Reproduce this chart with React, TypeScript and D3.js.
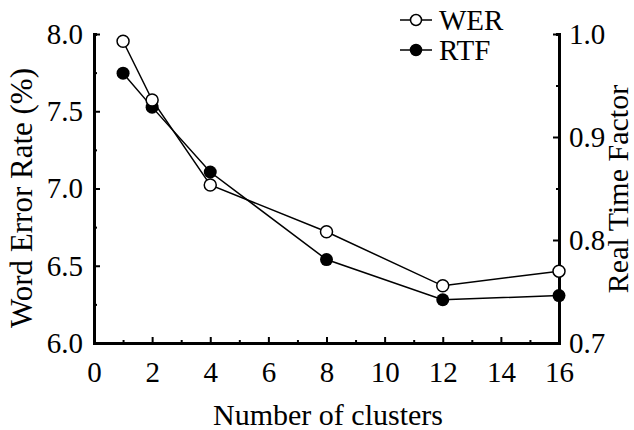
import React, { useEffect, useRef } from "react";
import * as d3 from "d3";

const clusters = [1, 2, 4, 8, 12, 16];
const werValues = [7.953, 7.573, 7.023, 6.72, 6.37, 6.465];
const rtfValues = [0.962, 0.929, 0.866, 0.781, 0.742, 0.746];
const xTicks = [0, 2, 4, 6, 8, 10, 12, 14, 16];
const werTicks = [6.0, 6.5, 7.0, 7.5, 8.0];
const rtfTicks = [0.7, 0.8, 0.9, 1.0];

const width = 634;
const height = 430;
const font = "'Liberation Serif', 'Times New Roman', serif";

export default function App() {
  const ref = useRef<SVGSVGElement | null>(null);

  useEffect(() => {
    if (!ref.current) return;
    const svg = d3.select(ref.current);
    svg.selectAll("*").remove();

    const margin = { top: 34, right: 75, bottom: 87, left: 94 };
    const plotW = width - margin.left - margin.right;
    const plotH = height - margin.top - margin.bottom;

    const g = svg
      .append("g")
      .attr("transform", `translate(${margin.left},${margin.top})`);

    const x = d3.scaleLinear().domain([0, 16]).range([0, plotW]);
    const yL = d3.scaleLinear().domain([6, 8]).range([plotH, 0]);
    const yR = d3.scaleLinear().domain([0.7, 1.0]).range([plotH, 0]);

    const axisStyle = (sel: any) => {
      sel.select(".domain").attr("stroke", "#000").attr("stroke-width", 3);
      sel.selectAll("line").attr("stroke", "#000").attr("stroke-width", 2);
      sel
        .selectAll("text")
        .attr("font-family", font)
        .attr("font-size", 29)
        .attr("fill", "#000");
    };

    // minor ticks
    const minor = (axis: any, values: number[]) =>
      axis.tickValues(values).tickSize(-3).tickFormat(() => "");

    g.append("g")
      .attr("transform", `translate(0,${plotH})`)
      .call(minor(d3.axisBottom(x), d3.range(1, 16, 2)))
      .call(axisStyle);
    g.append("g")
      .call(minor(d3.axisLeft(yL), [6.25, 6.75, 7.25, 7.75]))
      .call(axisStyle);
    g.append("g")
      .attr("transform", `translate(${plotW},0)`)
      .call(minor(d3.axisRight(yR), [0.75, 0.85, 0.95]))
      .call(axisStyle);

    // X axis
    g.append("g")
      .attr("transform", `translate(0,${plotH})`)
      .call(
        d3
          .axisBottom(x)
          .tickValues(xTicks)
          .tickSizeInner(-6)
          .tickSizeOuter(0)
          .tickPadding(18)
          .tickFormat(d3.format("d"))
      )
      .call(axisStyle);

    // Left axis
    g.append("g")
      .call(
        d3
          .axisLeft(yL)
          .tickValues(werTicks)
          .tickSizeInner(-6)
          .tickSizeOuter(0)
          .tickPadding(11)
          .tickFormat(d3.format(".1f"))
      )
      .call(axisStyle);

    // Right axis
    g.append("g")
      .attr("transform", `translate(${plotW},0)`)
      .call(
        d3
          .axisRight(yR)
          .tickValues(rtfTicks)
          .tickSizeInner(-6)
          .tickSizeOuter(0)
          .tickPadding(10)
          .tickFormat(d3.format(".1f"))
      )
      .call(axisStyle);

    // Axis labels
    svg
      .append("text")
      .attr("transform", `translate(32,198) rotate(-90)`)
      .attr("text-anchor", "middle")
      .attr("font-family", font)
      .attr("font-size", 31)
      .text("Word Error Rate (%)");
    svg
      .append("text")
      .attr("transform", `translate(628,189) rotate(-90)`)
      .attr("text-anchor", "middle")
      .attr("font-family", font)
      .attr("font-size", 30)
      .text("Real Time Factor");
    svg
      .append("text")
      .attr("x", 328)
      .attr("y", 425)
      .attr("text-anchor", "middle")
      .attr("font-family", font)
      .attr("font-size", 30)
      .text("Number of clusters");

    // Lines
    const werLine = d3
      .line<number>()
      .x((_, i) => x(clusters[i]))
      .y((d) => yL(d));
    const rtfLine = d3
      .line<number>()
      .x((_, i) => x(clusters[i]))
      .y((d) => yR(d));

    g.append("path")
      .datum(werValues)
      .attr("d", werLine)
      .attr("fill", "none")
      .attr("stroke", "#000")
      .attr("stroke-width", 1.5);
    g.append("path")
      .datum(rtfValues)
      .attr("d", rtfLine)
      .attr("fill", "none")
      .attr("stroke", "#000")
      .attr("stroke-width", 1.5);

    g.selectAll(".rtf")
      .data(rtfValues)
      .enter()
      .append("circle")
      .attr("cx", (_, i) => x(clusters[i]))
      .attr("cy", (d) => yR(d))
      .attr("r", 6.5)
      .attr("fill", "#000");
    g.selectAll(".wer")
      .data(werValues)
      .enter()
      .append("circle")
      .attr("cx", (_, i) => x(clusters[i]))
      .attr("cy", (d) => yL(d))
      .attr("r", 6)
      .attr("fill", "#fff")
      .attr("stroke", "#000")
      .attr("stroke-width", 1.5);

    // Legend
    const legend = svg.append("g").attr("transform", "translate(400,0)");
    [
      { label: "WER", fill: "#fff", y: 20 },
      { label: "RTF", fill: "#000", y: 50 },
    ].forEach((it) => {
      legend
        .append("line")
        .attr("x1", 0)
        .attr("x2", 32)
        .attr("y1", it.y)
        .attr("y2", it.y)
        .attr("stroke", "#000")
        .attr("stroke-width", 1.5);
      legend
        .append("circle")
        .attr("cx", 16)
        .attr("cy", it.y)
        .attr("r", 5.5)
        .attr("fill", it.fill)
        .attr("stroke", "#000")
        .attr("stroke-width", 1.5);
      legend
        .append("text")
        .attr("x", 39)
        .attr("y", it.y + 10)
        .attr("font-family", font)
        .attr("font-size", 29)
        .text(it.label);
    });
  }, []);

  return (
    <svg
      ref={ref}
      width={width}
      height={height}
      style={{ position: "absolute", left: 0, top: 0, background: "#fff" }}
    />
  );
}
